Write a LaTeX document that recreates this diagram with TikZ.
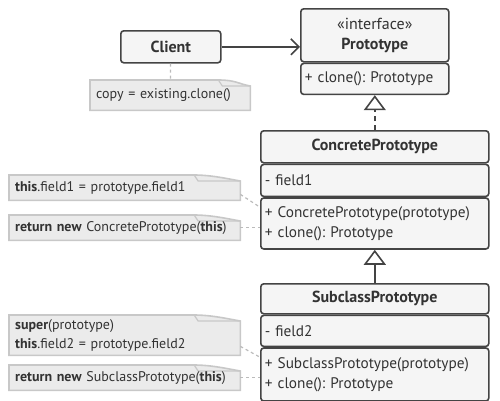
\documentclass[tikz,border=0pt]{standalone}
\usepackage{fontspec}
\setmainfont{PT Sans}
\usepackage{xcolor}
\usepackage{tikz}
\usetikzlibrary{
    arrows.meta,
    positioning,
    calc,
    backgrounds
}

\definecolor{ink}{HTML}{444444}
\definecolor{txt}{HTML}{333333}
\definecolor{boxfill}{HTML}{F5F5F5}
\definecolor{notefill}{HTML}{EBEBEB}
\definecolor{noteline}{HTML}{C8C8C8}
\definecolor{linkline}{HTML}{BBBBBB}

\frenchspacing

\begin{document}
\begin{tikzpicture}[
    x=1pt, y=-1pt,
    font=\fontsize{15.3}{19.5}\selectfont,
    text=txt,
    part/.style={
        rectangle,
        rounded corners=3pt,
        draw=ink,
        fill=boxfill,
        line width=1.6pt,
        inner xsep=4pt,
        inner ysep=0pt,
        anchor=north west
    },
    head/.style={
        part,
        align=center,
        font=\fontsize{16}{19.5}\selectfont\bfseries
    },
    rows/.style={
        part,
        align=left,
        text width=#1
    },
    note/.style={
        rectangle,
        align=left,
        anchor=north west,
        inner xsep=6pt,
        inner ysep=0pt,
        text width=#1,
        font=\fontsize{14}{19}\selectfont
    },
    arrow/.style={-{Straight Barb[length=8pt,width=16pt,line width=1.6pt]}, line width=1.6pt, ink},
    realize/.style={-{Triangle[open,length=15pt,width=22pt,line width=1.6pt,fill=white]}, line width=1.6pt, ink},
    link/.style={dash pattern=on 3pt off 3pt, line width=1.2pt, linkline}
]
\useasboundingbox (0,0) rectangle (500,400);

% ===== Client and interface =====
\node[head, minimum width=100, minimum height=32] (client) at (120,30) {Client};
\node[head, minimum width=148, minimum height=53] (proto) at (300,8) {{\mdseries «interface»}\\Prototype};
\node[rows=140pt, minimum height=31] (protoops) at (proto.south west) {+ clone(): Prototype};

\node[note=148pt, minimum height=30] (n1) at (90,80) {\mbox{copy = existing.clone()}};

\draw[arrow] (client.east) -- (client.east -| proto.west);
\draw[link] (client) -- (n1);

% ===== ConcretePrototype =====
\node[head, minimum width=228, minimum height=32] (cp) at (260,130) {ConcretePrototype};
\node[rows=220pt, minimum height=32] (cpattr) at (cp.south west) {- field1};
\node[rows=220pt, minimum height=51] (cpops) at (cpattr.south west) {+ ConcretePrototype(prototype)\\+ clone(): Prototype};

\node[note=219pt, minimum height=25] (n2) at (9,175) {\mbox{\textbf{this}.field1 = prototype.field1}};
\node[note=219pt, minimum height=25] (n3) at (9,215) {\mbox{\textbf{return new} ConcretePrototype(\textbf{this})}};

\draw[realize, dash pattern=on 5pt off 4pt] (cp.north) -- (protoops.south);

\coordinate (n2-out) at ($(n2.south east)+(0,-6)$);
\coordinate (cp-ctor) at ($(cpops.north west)+(0,10)$);
\draw[link] (n2-out) -- (cp-ctor);
\draw[link] (n3.east) -- (n3.east -| cpops.west);

% ===== SubclassPrototype =====
\node[head, minimum width=228, minimum height=30] (sp) at (260,283) {SubclassPrototype};
\node[rows=220pt, minimum height=31] (spattr) at (sp.south west) {- field2};
\node[rows=220pt, minimum height=53] (spops) at (spattr.south west) {+ SubclassPrototype(prototype)\\+ clone(): Prototype};

\node[note=219pt, minimum height=40] (n4) at (9,315) {\mbox{\textbf{super}(prototype)}\\\mbox{\textbf{this}.field2 = prototype.field2}};
\node[note=219pt, minimum height=25] (n5) at (9,365) {\mbox{\textbf{return new} SubclassPrototype(\textbf{this})}};

\draw[realize] (sp.north) -- (cpops.south);

\coordinate (n4-out) at ($(n4.south east)+(0,-9)$);
\coordinate (sp-ctor) at ($(spops.north west)+(0,10)$);
\draw[link] (n4-out) -- (sp-ctor);
\draw[link] (n5.east) -- (n5.east -| spops.west);

% note sheets with folded corner
\begin{scope}[on background layer]
\foreach \n in {n1,n2,n3,n4,n5} {
    \coordinate (fa) at ($(\n.north west)!0.8!(\n.north east)$);
    \coordinate (fb) at ($(\n.north east)+(0,6)$);
    \filldraw[fill=notefill, draw=noteline, line width=1.6pt]
        (\n.north west) -- (fa) .. controls ($(fa)+(18,0)$) and ($(fb)+(-12,-2)$) .. (fb)
        -- (\n.south east) -- (\n.south west) -- cycle;
    \draw[noteline, line width=1.2pt] (fa) -- ($(fa)+(4,6)$) -- (fb);
}
\end{scope}

\end{tikzpicture}
\end{document}
